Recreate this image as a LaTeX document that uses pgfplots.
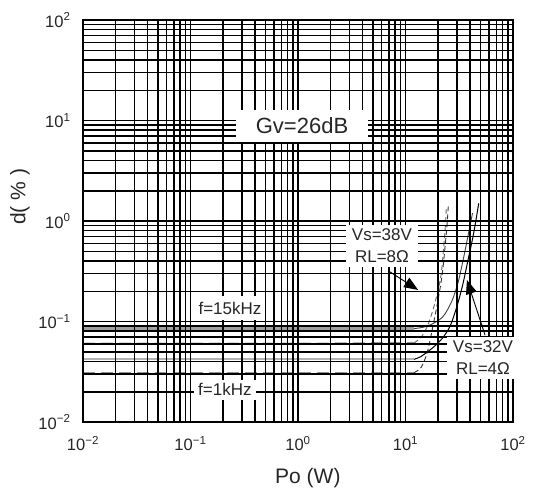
\documentclass[border=0pt]{standalone}
\usepackage{fontspec}
\setmainfont{Liberation Sans}
\usepackage{pgfplots}
\pgfplotsset{compat=1.18}
\usetikzlibrary{arrows.meta}
\begin{document}
\begin{tikzpicture}
\begin{axis}[
  at={(0,0)}, anchor=south west,
  xmode=log, ymode=log,
  scale only axis, width=430pt, height=402pt,
  xmin=0.01, xmax=100, ymin=0.01, ymax=100,
  xtick={0.01,0.1,1,10,100},
  ytick={0.01,0.1,1,10,100},
  minor xtick={0.02,0.03,0.04,0.05,0.06,0.07,0.08,0.09,0.2,0.3,0.4,0.5,0.6,0.7,0.8,0.9,2,3,4,5,6,7,8,9,20,30,40,50,60,70,80,90},
  minor ytick={0.02,0.03,0.04,0.05,0.06,0.07,0.08,0.09,0.2,0.3,0.4,0.5,0.6,0.7,0.8,0.9,2,3,4,5,6,7,8,9,20,30,40,50,60,70,80,90},
  xticklabels={10\textsuperscript{−2},10\textsuperscript{−1},10\textsuperscript{0},10\textsuperscript{1},10\textsuperscript{2}},
  yticklabels={10\textsuperscript{−2},10\textsuperscript{−1},10\textsuperscript{0},10\textsuperscript{1},10\textsuperscript{2}},
  grid=both,
  major grid style={black, line width=1.5pt},
  minor grid style={black, line width=1.5pt},
  axis line style={black, line width=1.6pt},
  major tick length=0pt, minor tick length=0pt,
  axis on top,
  tick label style={font=\fontsize{16.5}{18}\selectfont, text=black!85},
  xticklabel style={yshift=-11pt},
  yticklabel style={xshift=-9pt},
  xlabel={Po (W)}, ylabel={d( \% )},
  label style={font=\fontsize{21}{24}\selectfont, text=black!85},
  xlabel style={at={(axis description cs:0.523,0)}, anchor=center, yshift=-56pt},
  ylabel style={at={(axis description cs:0,0.56)}, anchor=center, yshift=63pt},
]
% flat parts (grey)
\addplot[gray!85, line width=2.2pt, dash pattern=on 12pt off 6pt] coordinates {(0.01,0.031) (1,0.031) (12,0.031)};
\addplot[gray!85, line width=2.2pt, dash pattern=on 12pt off 6pt] coordinates {(0.01,0.060) (1,0.060) (12,0.061)};
\addplot[gray!60, line width=2.2pt] coordinates {(0.01,0.042) (1,0.042) (12,0.042)};
\addplot[gray!75, line width=2.2pt] coordinates {(0.01,0.085) (1,0.085) (12,0.085)};
% rising parts, 8 ohm (dashed)
\addplot[black!80, line width=0.9pt, dash pattern=on 5pt off 3pt, smooth] coordinates {(12,0.031) (14,0.035) (16,0.05) (18,0.09) (20,0.16) (22,0.3) (23.5,0.6) (24.5,1.0) (25,1.4)};
\addplot[black!60, line width=0.9pt, dash pattern=on 5pt off 3pt, smooth] coordinates {(12,0.061) (14,0.07) (16,0.09) (18,0.13) (20,0.2) (21.5,0.3) (22.5,0.5) (23.5,0.9) (24,1.4)};
% rising parts, 4 ohm (solid)
\addplot[black, line width=1.0pt, smooth] coordinates {(12,0.042) (14,0.045) (18,0.055) (22,0.068) (26,0.09) (30,0.14) (34,0.23) (38,0.4) (43,0.75) (48,1.5)};
\addplot[black!75, line width=0.9pt, smooth] coordinates {(12,0.085) (16,0.09) (22,0.11) (27,0.16) (31,0.25) (35,0.45) (39,0.8) (42,1.2)};
\coordinate (gv) at (axis cs:1.09,8.8);
\coordinate (f15) at (axis cs:0.233,0.136);
\coordinate (f1) at (axis cs:0.209,0.0209);
\coordinate (v38) at (axis cs:6.04,0.564);
\coordinate (v32) at (axis cs:52.6,0.0433);
\coordinate (a1s) at (axis cs:6.9,0.32);
\coordinate (a1e) at (axis cs:13.1,0.206);
\coordinate (a2s) at (axis cs:55,0.073);
\coordinate (a2e) at (axis cs:37.3,0.259);
\end{axis}
\node[fill=white, inner xsep=20pt, inner ysep=8pt, font=\fontsize{22}{24}\selectfont, text=black!85] at (gv) {Gv=26dB};
\node[fill=white, inner xsep=4pt, inner ysep=6pt, font=\fontsize{17}{20}\selectfont, text=black!85] at (f15) {f=15kHz};
\node[fill=white, inner xsep=4pt, inner ysep=4pt, font=\fontsize{17}{20}\selectfont, text=black!85] at (f1) {f=1kHz};
\node[fill=white, inner xsep=6pt, inner ysep=4pt, align=center, font=\fontsize{17}{22}\selectfont, text=black!85] at (v38) {Vs=38V\\RL=8Ω};
\node[fill=white, inner xsep=6pt, inner ysep=4pt, align=center, font=\fontsize{17}{22}\selectfont, text=black!85] at (v32) {Vs=32V\\RL=4Ω};
\draw[black, line width=0.9pt, -{Triangle[length=14pt,width=11pt]}] (a1s) -- (a1e);
\draw[black, line width=0.9pt, -{Triangle[length=14pt,width=11pt]}] (a2s) -- (a2e);
\pgfresetboundingbox
\path[use as bounding box] (-83pt,-73pt) rectangle (456pt,422pt);
\end{tikzpicture}
\end{document}
